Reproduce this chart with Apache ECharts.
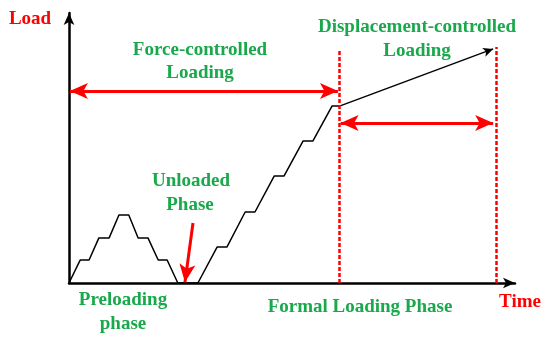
<!DOCTYPE html>
<html>
<head>
<meta charset="utf-8">
<script src="https://cdn.jsdelivr.net/npm/echarts@6/dist/echarts.min.js"></script>
<style>html,body{margin:0;padding:0;background:#fff;}#c{width:550px;height:342px;}</style>
</head>
<body>
<div id="c"></div>
<script>
// Load-time schematic (time 0..100, load 0..100)
var loadTime = [0, 2.5, 4.5, 6.7, 9.0, 11.2, 13.4, 15.5, 17.7, 20.0, 22.0, 24.4, 28.9, 33.2, 35.4, 39.5, 41.7, 46.0, 48.2, 52.5, 54.7, 59.0, 60.8];
var loadValue = [0, 8.5, 8.5, 16.7, 16.7, 25.2, 25.2, 16.7, 16.7, 8.5, 8.5, 0, 0, 13.3, 13.3, 26.3, 26.3, 39.6, 39.6, 52.6, 52.6, 65.6, 65.6];
// displacement-controlled segment (start, end)
var dispTime = [60.8, 95.1];
var dispValue = [65.6, 86.7];
// phase boundaries
var boundaryTime = [60.5, 95.7];
var boundaryTop = [86.3, 87.4];
// double arrows: [x1, x2, y]
var forceArrow = [0.2, 60.3, 71.1];
var dispArrow = [60.9, 95.1, 59.3];
// unloaded arrow: start (t, L) -> end (t, L)
var unloadArrow = [27.8, 22.2, 26.0, 0.3];

var green = '#19A84B', red = '#FF0000';
var fam = '"Liberation Serif","Times New Roman",serif';

var pts = loadTime.map(function (t, i) { return [t, loadValue[i]]; });

function txt(text, x, y, color) {
  return {
    type: 'text', x: x, y: y,
    style: { text: text, fill: color, font: 'bold 19px ' + fam, textAlign: 'center', textVerticalAlign: 'middle' }
  };
}

var chart = echarts.init(document.getElementById('c'));
chart.setOption({
  animation: false,
  backgroundColor: '#fff',
  grid: { left: 69, right: 35, top: 13, bottom: 59 },
  xAxis: {
    type: 'value', min: 0, max: 100,
    axisLine: { show: true, symbol: ['none', 'arrow'], symbolSize: [8, 12], lineStyle: { color: '#000', width: 2.5 } },
    axisTick: { show: false }, axisLabel: { show: false }, splitLine: { show: false }
  },
  yAxis: {
    type: 'value', min: 0, max: 100,
    axisLine: { show: true, symbol: ['none', 'arrow'], symbolSize: [8, 12], lineStyle: { color: '#000', width: 2.5 } },
    axisTick: { show: false }, axisLabel: { show: false }, splitLine: { show: false }
  },
  series: [
    {
      type: 'line', data: pts, symbol: 'none', silent: true,
      lineStyle: { color: '#000', width: 1.5 }
    },
    {
      type: 'line', data: [], silent: true,
      markLine: {
        silent: true, animation: false,
        label: { show: false },
        data: [
          [{ coord: [dispTime[0], dispValue[0]], symbol: 'none', lineStyle: { color: '#000', width: 1.5, type: 'solid' } },
           { coord: [dispTime[1], dispValue[1]], symbol: 'arrow', symbolSize: [7, 10] }],
          [{ coord: [boundaryTime[0], 0], symbol: 'none', lineStyle: { color: red, width: 2.5, type: [4, 2] } },
           { coord: [boundaryTime[0], boundaryTop[0]], symbol: 'none' }],
          [{ coord: [boundaryTime[1], 0], symbol: 'none', lineStyle: { color: red, width: 2.5, type: [4, 2] } },
           { coord: [boundaryTime[1], boundaryTop[1]], symbol: 'none' }],
          [{ coord: [forceArrow[0], forceArrow[2]], symbol: 'arrow', symbolSize: [12, 18], lineStyle: { color: red, width: 3, type: 'solid' } },
           { coord: [forceArrow[1], forceArrow[2]], symbol: 'arrow', symbolSize: [12, 18] }],
          [{ coord: [dispArrow[0], dispArrow[2]], symbol: 'arrow', symbolSize: [12, 18], lineStyle: { color: red, width: 3, type: 'solid' } },
           { coord: [dispArrow[1], dispArrow[2]], symbol: 'arrow', symbolSize: [12, 18] }],
          [{ coord: [unloadArrow[0], unloadArrow[1]], symbol: 'none', lineStyle: { color: red, width: 3, type: 'solid' } },
           { coord: [unloadArrow[2], unloadArrow[3]], symbol: 'arrow', symbolSize: [12, 18] }]
        ]
      }
    }
  ],
  graphic: [
    txt('Load', 30, 19, red),
    txt('Time', 520, 302, red),
    txt('Force-controlled', 200, 50, green),
    txt('Loading', 200, 73, green),
    txt('Displacement-controlled', 417, 27, green),
    txt('Loading', 417, 51, green),
    txt('Unloaded', 191, 181, green),
    txt('Phase', 190, 205, green),
    txt('Preloading', 123, 300, green),
    txt('phase', 123, 324, green),
    txt('Formal Loading Phase', 360, 307, green)
  ]
});
</script>
</body>
</html>
